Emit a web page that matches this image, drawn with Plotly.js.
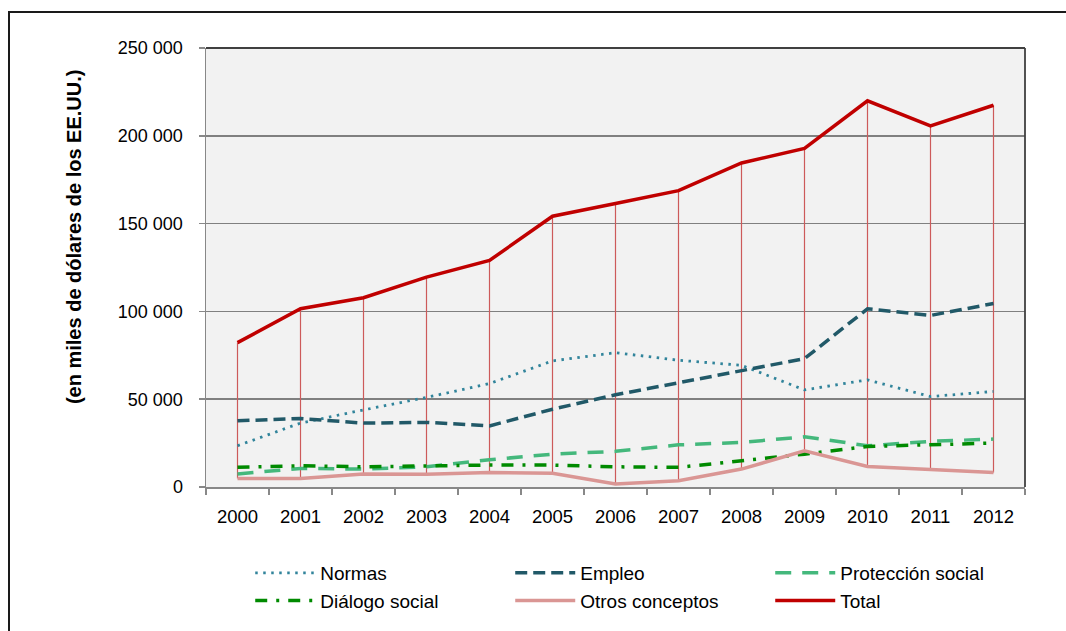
<!DOCTYPE html>
<html>
<head>
<meta charset="utf-8">
<script src="https://cdn.plot.ly/plotly-3.0.1.min.js"></script>
<style>
  html, body { margin: 0; padding: 0; background: #fff; }
  #chart { width: 1066px; height: 631px; }
  #frame { position: absolute; left: 8px; top: 11px; width: 1200px; height: 800px;
           border-top: 2px solid #1a1a1a; border-left: 2px solid #1a1a1a; pointer-events: none; }
</style>
</head>
<body>
<div id="chart"></div>
<div id="frame"></div>
<script>
const years = ['2000','2001','2002','2003','2004','2005','2006','2007','2008','2009','2010','2011','2012'];
const normas     = [23500, 36400, 43900, 51000, 58900, 71800, 76500, 72200, 69300, 55300, 61000, 51500, 54400];
const empleo     = [37700, 39000, 36400, 36800, 34800, 44300, 52500, 59500, 66100, 73100, 101500, 97700, 104500];
const proteccion = [7400, 10600, 10200, 11500, 15500, 18700, 20300, 24000, 25400, 28600, 23500, 26000, 27300];
const dialogo    = [11200, 12100, 11500, 12100, 12500, 12500, 11500, 11200, 15000, 18700, 23100, 23900, 25000];
const otros      = [4900, 4900, 7400, 7200, 8300, 7800, 1700, 3600, 10200, 20600, 11700, 9800, 8300];
const total      = [82200, 101500, 107800, 119500, 129000, 154200, 161400, 168800, 184500, 192800, 219900, 205700, 217400];

const yTickVals = [0, 50000, 100000, 150000, 200000, 250000];
const yTickText = ['0', '50 000', '100 000', '150 000', '200 000', '250 000'];

// high-low lines: from the highest to the lowest value in each category
const allSeries = [normas, empleo, proteccion, dialogo, otros, total];
const hlX = [], hlY = [];
years.forEach((yr, i) => {
  const vals = allSeries.map(s => s[i]);
  hlX.push(yr, yr, null);
  hlY.push(Math.max(...vals), Math.min(...vals), null);
});

const regular = '"Liberation Sans", Arial, sans-serif';

const traces = [
  { x: hlX, y: hlY, type: 'scatter', mode: 'lines', showlegend: false, hoverinfo: 'skip',
    line: { color: '#cd5a5a', width: 1.2 } },
  { x: years, y: normas, name: 'Normas', type: 'scatter', mode: 'lines',
    line: { color: '#31849b', width: 2.8, dash: '2.5px,5.5px' } },
  { x: years, y: empleo, name: 'Empleo', type: 'scatter', mode: 'lines',
    line: { color: '#215968', width: 3.5, dash: '12px,6px' } },
  { x: years, y: proteccion, name: 'Protección social', type: 'scatter', mode: 'lines',
    line: { color: '#44b87c', width: 3.5, dash: '16px,11px' } },
  { x: years, y: dialogo, name: 'Diálogo social', type: 'scatter', mode: 'lines',
    line: { color: '#008a00', width: 3.5, dash: '12px,9px,3px,9px' } },
  { x: years, y: otros, name: 'Otros conceptos', type: 'scatter', mode: 'lines',
    line: { color: '#da9694', width: 3.5 } },
  { x: years, y: total, name: 'Total', type: 'scatter', mode: 'lines',
    line: { color: '#c00000', width: 3.5 } }
];

const layout = {
  width: 1066, height: 631,
  margin: { l: 206, r: 41, t: 48, b: 143 },
  paper_bgcolor: '#ffffff',
  plot_bgcolor: '#f2f2f2',
  font: { family: regular, size: 18, color: '#000' },
  xaxis: {
    type: 'category', tickson: 'boundaries', range: [-0.5, 12.5],
    showgrid: false, ticks: 'outside', ticklen: 6, tickcolor: '#888', tickwidth: 1.5,
    showline: true, linecolor: '#888', linewidth: 1.5,
    ticklabelstandoff: 12,
    tickfont: { family: regular, size: 18.5, color: '#000' },
    fixedrange: true
  },
  yaxis: {
    range: [0, 250000], tickvals: yTickVals, ticktext: yTickText,
    showgrid: true, gridcolor: '#808080', gridwidth: 1.5, zeroline: false,
    ticks: 'outside', ticklen: 6, tickcolor: '#888', tickwidth: 1.5,
    showline: true, linecolor: '#888', linewidth: 1.5,
    ticklabelstandoff: 12,
    tickfont: { family: regular, size: 18, color: '#000' },
    fixedrange: true
  },
  shapes: [
    { type: 'line', xref: 'paper', yref: 'paper', x0: 0, x1: 1, y0: 1, y1: 1, line: { color: '#404040', width: 1.8 } },
    { type: 'line', xref: 'paper', yref: 'paper', x0: 1, x1: 1, y0: 0, y1: 1, line: { color: '#404040', width: 1.8 } }
  ],
  annotations: [
    { text: '<b>(en miles de dólares de los EE.UU.)</b>', textangle: -90,
      xref: 'paper', yref: 'paper', x: -0.162, y: 0.57, xanchor: 'center', yanchor: 'middle',
      showarrow: false, font: { family: regular, size: 20, color: '#000' } }
  ],
  legend: {
    orientation: 'h', x: 0.054, xanchor: 'left', y: -0.15, yanchor: 'top',
    entrywidth: 185, entrywidthmode: 'pixels', itemwidth: 60,
    font: { family: regular, size: 19, color: '#000' },
    bgcolor: 'rgba(0,0,0,0)'
  },
  showlegend: true
};

Plotly.newPlot('chart', traces, layout, { displayModeBar: false, staticPlot: true });
</script>
</body>
</html>
